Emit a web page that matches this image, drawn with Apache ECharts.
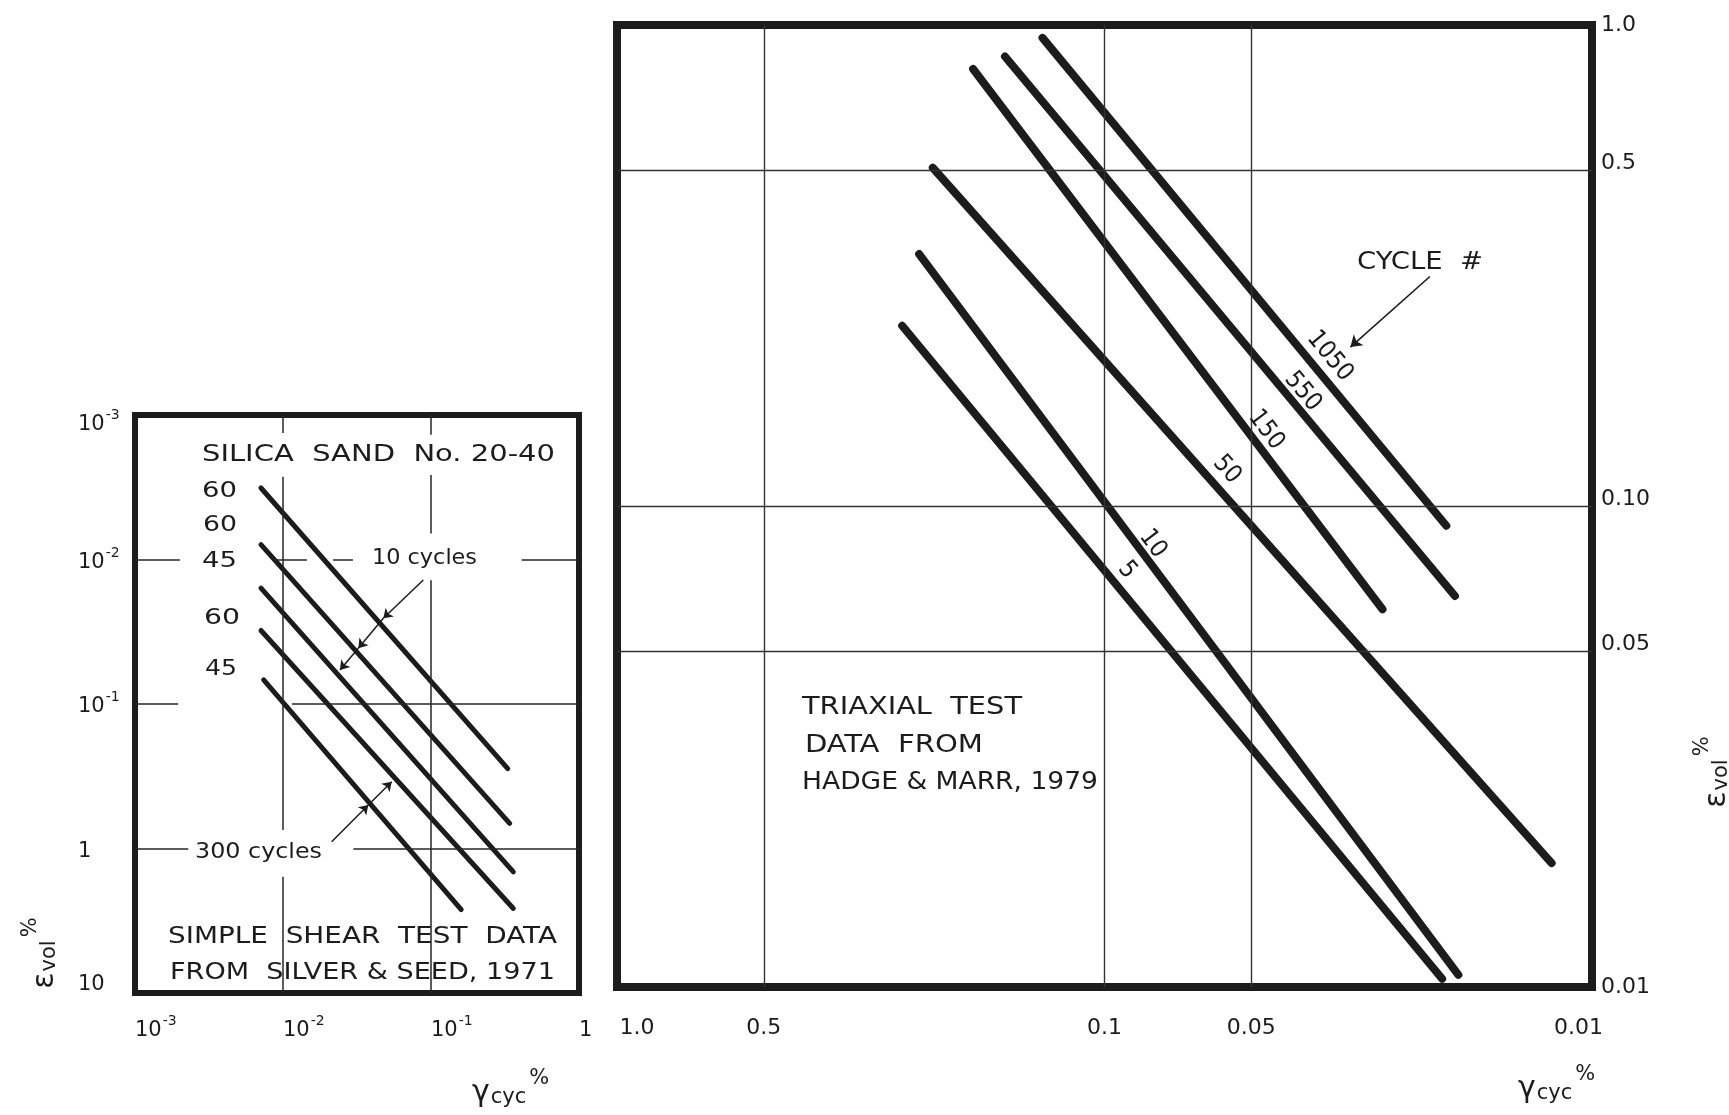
<!DOCTYPE html>
<html>
<head>
<meta charset="utf-8">
<script src="https://cdn.jsdelivr.net/npm/echarts@6/dist/echarts.min.js"></script>
<style>
  html, body { margin: 0; padding: 0; background: #ffffff; }
  #chart { width: 1729px; height: 1115px; }
</style>
</head>
<body>
<div id="chart"></div>
<script>
// ---------- Simple shear data (Silver & Seed, 1971): straight lines, gamma_cyc % vs eps_vol % ----------
const ssLineLabels = ['60', '60', '45', '60', '45'];
const ssLineCycles = ['10 cycles', '10 cycles', '10 cycles', '300 cycles', '300 cycles'];
const ssGammaStart = [0.0071, 0.0071, 0.0071, 0.0071, 0.0074];
const ssEpsStart   = [0.0032, 0.0079, 0.0158, 0.031, 0.068];
const ssGammaEnd   = [0.33, 0.34, 0.36, 0.36, 0.16];
const ssEpsEnd     = [0.28, 0.67, 1.45, 2.6, 2.65];

// ---------- Triaxial data (Hadge & Marr, 1979): one line per cycle number ----------
const txCycles     = ['1050', '550', '150', '50', '10', '5'];
const txGammaStart = [0.134, 0.160, 0.186, 0.225, 0.240, 0.260];
const txEpsStart   = [0.94, 0.86, 0.81, 0.505, 0.334, 0.237];
const txGammaEnd   = [0.0199, 0.0191, 0.0269, 0.0121, 0.0188, 0.0203];
const txEpsEnd     = [0.091, 0.065, 0.061, 0.0181, 0.0106, 0.0104];

// ---------- Tick labels ----------
const txXTickValues = [1, 0.5, 0.1, 0.05, 0.01];
const txXTickLabels = ['1.0', '0.5', '0.1', '0.05', '0.01'];
const txYTickValues = [1, 0.5, 0.1, 0.05, 0.01];
const txYTickLabels = ['1.0', '0.5', '0.10', '0.05', '0.01'];

// ---------- Styling ----------
const INK = '#1c1c1c';
const LETTER = "'DejaVu Sans', 'Noto Sans', sans-serif";
const NARROW = "'DejaVu Sans Condensed', 'DejaVu Sans', sans-serif";

// Gridline runs of the hand-drawn left panel (broken around the lettering)
const ssGridRuns = [
  { axis: 'y', at: 0.01, runs: [[0.001, 0.00201], [0.0088, 0.0145], [0.0218, 0.0297], [0.41, 1]] },
  { axis: 'y', at: 0.1,  runs: [[0.001, 0.00196], [0.0115, 1]] },
  { axis: 'y', at: 1,    runs: [[0.001, 0.00229], [0.0299, 1]] },
  { axis: 'x', at: 0.01, runs: [[0.001, 0.00133], [0.00267, 0.745], [1.57, 10]] },
  { axis: 'x', at: 0.1,  runs: [[0.001, 0.00137], [0.0026, 0.0066], [0.0139, 10]] }
];
const txGridValues = [0.5, 0.1, 0.05];

// Leader arrows (chained heads where they meet the lines)
const ssArrows = [
  [[0.0887, 0.01387], [0.04762, 0.02553]],
  [[0.04762, 0.02553], [0.03228, 0.04116]],
  [[0.03228, 0.04116], [0.02427, 0.05817]],
  [[0.02133, 0.8974], [0.03771, 0.50]],
  [[0.03771, 0.50], [0.05427, 0.3449]]
];
const txArrow = [[0.0215, 0.300], [0.0313, 0.214]];
// Where each cycle number sits beside its line
const txLabelAnchor = [[0.0345, 0.205], [0.0392, 0.173], [0.0466, 0.144], [0.0561, 0.119], [0.0796, 0.0834], [0.0899, 0.0736]];

function exp10(v) { return Math.round(Math.log10(v)); }
function pickLabel(v, values, labels) {
  for (let i = 0; i < values.length; i++) {
    if (Math.abs(Math.log10(v / values[i])) < 1e-6) return labels[i];
  }
  return '';
}

const supRich = {
  b:   { fontSize: 21, fontFamily: LETTER, color: INK, padding: [6, 0, 0, 0], verticalAlign: 'bottom' },
  s:   { fontSize: 14, fontFamily: LETTER, color: INK, verticalAlign: 'top', padding: [0, 0, 0, 1] },
  blo: { fontSize: 21, fontFamily: LETTER, color: INK, padding: [20, 0, 0, 0], verticalAlign: 'bottom' },
  slo: { fontSize: 14, fontFamily: LETTER, color: INK, verticalAlign: 'top', padding: [14, 0, 0, 1] },
  bhi: { fontSize: 21, fontFamily: LETTER, color: INK, padding: [0, 0, 16, 0] }
};

function ssXLabel(v) {
  const e = exp10(v);
  if (e === 0) return '{b|1}';
  return '{b|10}{s|' + e + '}';
}
function ssYLabel(v) {
  const e = exp10(v);
  if (e === 0) return '{b|1}';
  if (e === 1) return '{bhi|10}';
  if (e === -3) return '{blo|10}{slo|' + e + '}';
  return '{b|10}{s|' + e + '}';
}

const lineBase = { type: 'line', symbol: 'none', silent: true, animation: false, z: 3 };

const series = [];

// left panel gridlines
const ssGridData = [];
ssGridRuns.forEach(g => g.runs.forEach(r => {
  if (g.axis === 'y') ssGridData.push([{ coord: [r[0], g.at] }, { coord: [r[1], g.at] }]);
  else ssGridData.push([{ coord: [g.at, r[0]] }, { coord: [g.at, r[1]] }]);
}));
series.push({
  type: 'line', xAxisIndex: 0, yAxisIndex: 0, data: [], silent: true, z: 1, animation: false,
  markLine: {
    silent: true, symbol: 'none', animation: false,
    label: { show: false },
    lineStyle: { color: '#262626', width: 1.5, type: 'solid' },
    emphasis: { disabled: true },
    data: ssGridData
  }
});

// right panel gridlines
series.push({
  type: 'line', xAxisIndex: 1, yAxisIndex: 1, data: [], silent: true, z: 1, animation: false,
  markLine: {
    silent: true, symbol: 'none', animation: false,
    label: { show: false },
    lineStyle: { color: '#333333', width: 1.4, type: 'solid' },
    emphasis: { disabled: true },
    data: txGridValues.map(v => ({ xAxis: v })).concat(txGridValues.map(v => ({ yAxis: v })))
  }
});

// simple shear lines
ssEpsStart.forEach((_, i) => {
  series.push(Object.assign({}, lineBase, {
    name: ssLineLabels[i] + ' / ' + ssLineCycles[i],
    xAxisIndex: 0, yAxisIndex: 0,
    data: [[ssGammaStart[i], ssEpsStart[i]], [ssGammaEnd[i], ssEpsEnd[i]]],
    lineStyle: { color: INK, width: 5, cap: 'round' }
  }));
});

// triaxial lines
txCycles.forEach((c, i) => {
  series.push(Object.assign({}, lineBase, {
    name: c,
    xAxisIndex: 1, yAxisIndex: 1,
    data: [[txGammaStart[i], txEpsStart[i]], [txGammaEnd[i], txEpsEnd[i]]],
    lineStyle: { color: INK, width: 8, cap: 'round' }
  }));
});

// leader arrows
series.push({
  type: 'line', xAxisIndex: 0, yAxisIndex: 0, data: [], silent: true, z: 4, animation: false,
  markLine: {
    silent: true, animation: false, symbol: ['none', 'arrow'], symbolSize: 9,
    label: { show: false }, emphasis: { disabled: true },
    lineStyle: { color: INK, width: 1.5, type: 'solid' },
    data: ssArrows.map(a => [{ coord: a[0] }, { coord: a[1] }])
  }
});
series.push({
  type: 'line', xAxisIndex: 1, yAxisIndex: 1, data: [], silent: true, z: 4, animation: false,
  markLine: {
    silent: true, animation: false, symbol: ['none', 'arrow'], symbolSize: 11,
    label: { show: false }, emphasis: { disabled: true },
    lineStyle: { color: INK, width: 1.6, type: 'solid' },
    data: [[{ coord: txArrow[0] }, { coord: txArrow[1] }]]
  }
});

const hidden = { show: false };
const TICK_FONT = 22;
const rightYRich = { t: { fontSize: TICK_FONT, fontFamily: LETTER, color: INK, padding: [0, 0, 14, 0] } };

const option = {
  animation: false,
  backgroundColor: '#ffffff',
  grid: [
    { left: 135, top: 415, width: 444, height: 578, show: true, borderWidth: 6, borderColor: INK, backgroundColor: 'transparent' },
    { left: 617, top: 25, width: 975, height: 962, show: true, borderWidth: 8, borderColor: INK, backgroundColor: 'transparent' }
  ],
  xAxis: [
    {
      type: 'log', logBase: 10, gridIndex: 0, min: 0.001, max: 1,
      axisLine: hidden, axisTick: hidden, splitLine: hidden, minorTick: hidden, minorSplitLine: hidden,
      axisLabel: { show: true, showMinLabel: true, showMaxLabel: true, margin: 21, align: 'left',
        formatter: ssXLabel, rich: supRich, color: INK, fontFamily: LETTER }
    },
    {
      type: 'log', logBase: 10, gridIndex: 1, min: 0.01, max: 1, inverse: true,
      axisLine: hidden, axisTick: hidden, splitLine: hidden, minorTick: hidden, minorSplitLine: hidden,
      axisLabel: {
        show: true, margin: 30, customValues: txXTickValues, showMinLabel: true, showMaxLabel: true,
        formatter: v => {
          const t = pickLabel(v, txXTickValues, txXTickLabels);
          if (t === '1.0') return '{l|' + t + '}';
          if (t === '0.01') return '{r|' + t + '}';
          return '{n|' + t + '}';
        },
        rich: {
          n: { fontSize: TICK_FONT, fontFamily: LETTER, color: INK },
          l: { fontSize: TICK_FONT, fontFamily: LETTER, color: INK, padding: [0, 0, 0, 40] },
          r: { fontSize: TICK_FONT, fontFamily: LETTER, color: INK, padding: [0, 27, 0, 0] }
        }
      }
    }
  ],
  yAxis: [
    {
      type: 'log', logBase: 10, gridIndex: 0, min: 0.001, max: 10, inverse: true,
      axisLine: hidden, axisTick: hidden, splitLine: hidden, minorTick: hidden, minorSplitLine: hidden,
      axisLabel: { show: true, showMinLabel: true, showMaxLabel: true, margin: 57, align: 'left',
        formatter: ssYLabel, rich: supRich, color: INK, fontFamily: LETTER }
    },
    {
      type: 'log', logBase: 10, gridIndex: 1, min: 0.01, max: 1, position: 'right',
      axisLine: hidden, axisTick: hidden, splitLine: hidden, minorTick: hidden, minorSplitLine: hidden,
      axisLabel: {
        show: true, margin: 9, align: 'left', customValues: txYTickValues, showMinLabel: true, showMaxLabel: true,
        formatter: v => {
          const t = pickLabel(v, txYTickValues, txYTickLabels);
          return (t === '1.0' || t === '0.01') ? t : '{t|' + t + '}';
        },
        rich: rightYRich,
        fontSize: TICK_FONT, fontFamily: LETTER, color: INK
      }
    }
  ],
  series: series
};

const chart = echarts.init(document.getElementById('chart'));
chart.setOption(option);

// ---------- lettering ----------
const measureCtx = document.createElement('canvas').getContext('2d');
function textWidth(text, size, family) {
  measureCtx.font = size + 'px ' + family;
  return measureCtx.measureText(text).width;
}
// hand lettering is wider than the installed faces: stretch each line to its span
function letter(x, y, text, size, family, span) {
  const w = textWidth(text, size, family);
  return {
    type: 'text', x: x, y: y, silent: true, z: 10,
    scaleX: span ? span / w : 1, scaleY: 1,
    style: { text: text, fontSize: size, fontFamily: family, fill: INK, align: 'left', verticalAlign: 'middle' }
  };
}

const titleRich = (base, small) => ({
  g:   { fontSize: base, fontFamily: LETTER, fill: INK, color: INK, padding: [10, 0, 0, 0], verticalAlign: 'bottom' },
  sub: { fontSize: small, fontFamily: LETTER, fill: INK, color: INK, verticalAlign: 'bottom', padding: [0, 0, 0, 1] },
  sup: { fontSize: small, fontFamily: LETTER, fill: INK, color: INK, verticalAlign: 'top', padding: [0, 0, 0, 3] }
});

function axisTitle(x, y, greek, subText, rotate, align) {
  const el = {
    type: 'text', x: x, y: y, silent: true, z: 10,
    style: {
      text: '{g|' + greek + '}{sub|' + subText + '}{sup|%}',
      rich: titleRich(30, 21), fill: INK,
      align: align || 'left', verticalAlign: 'middle'
    }
  };
  if (rotate) el.rotation = Math.PI / 2;
  return el;
}

const graphics = [
  // left panel lettering
  letter(202, 455, 'SILICA  SAND  No. 20-40', 23, LETTER, 353),
  letter(202, 492, ssLineLabels[0], 21, LETTER, 35),
  letter(203, 526, ssLineLabels[1], 21, LETTER, 34),
  letter(202, 562, ssLineLabels[2], 21, LETTER, 35),
  letter(204, 619, ssLineLabels[3], 21, LETTER, 36),
  letter(205, 670, ssLineLabels[4], 21, LETTER, 32),
  letter(372, 559, '10 cycles', 21, LETTER, 105),
  letter(195, 853, '300 cycles', 21, LETTER, 127),
  letter(168, 937, 'SIMPLE  SHEAR  TEST  DATA', 23, LETTER, 389),
  letter(170, 973, 'FROM  SILVER & SEED, 1971', 23, LETTER, 385),
  // right panel lettering
  letter(1357, 263, 'CYCLE  #', 24, NARROW, 126),
  letter(802, 707, 'TRIAXIAL  TEST', 25, NARROW, 220),
  letter(805, 745, 'DATA  FROM', 25, NARROW, 178),
  letter(802, 782, 'HADGE & MARR, 1979', 25, NARROW, 296),
  // axis titles
  axisTitle(40, 953, 'ε', 'vol', true, 'center'),
  axisTitle(472, 1088, 'γ', 'cyc', false, 'left'),
  axisTitle(1518, 1084, 'γ', 'cyc', false, 'left'),
  axisTitle(1712, 772, 'ε', 'vol', true, 'center')
];

// cycle numbers written along their lines
txCycles.forEach((c, i) => {
  const p0 = chart.convertToPixel({ gridIndex: 1 }, [txGammaStart[i], txEpsStart[i]]);
  const p1 = chart.convertToPixel({ gridIndex: 1 }, [txGammaEnd[i], txEpsEnd[i]]);
  const ang = Math.atan2(p1[1] - p0[1], p1[0] - p0[0]);
  const at = chart.convertToPixel({ gridIndex: 1 }, txLabelAnchor[i]);
  graphics.push({
    type: 'text', x: at[0], y: at[1], rotation: -ang, silent: true, z: 10,
    style: { text: c, fontSize: 25, fontFamily: NARROW, fill: INK, align: 'center', verticalAlign: 'middle' }
  });
});

chart.setOption({ graphic: graphics });
</script>
</body>
</html>
